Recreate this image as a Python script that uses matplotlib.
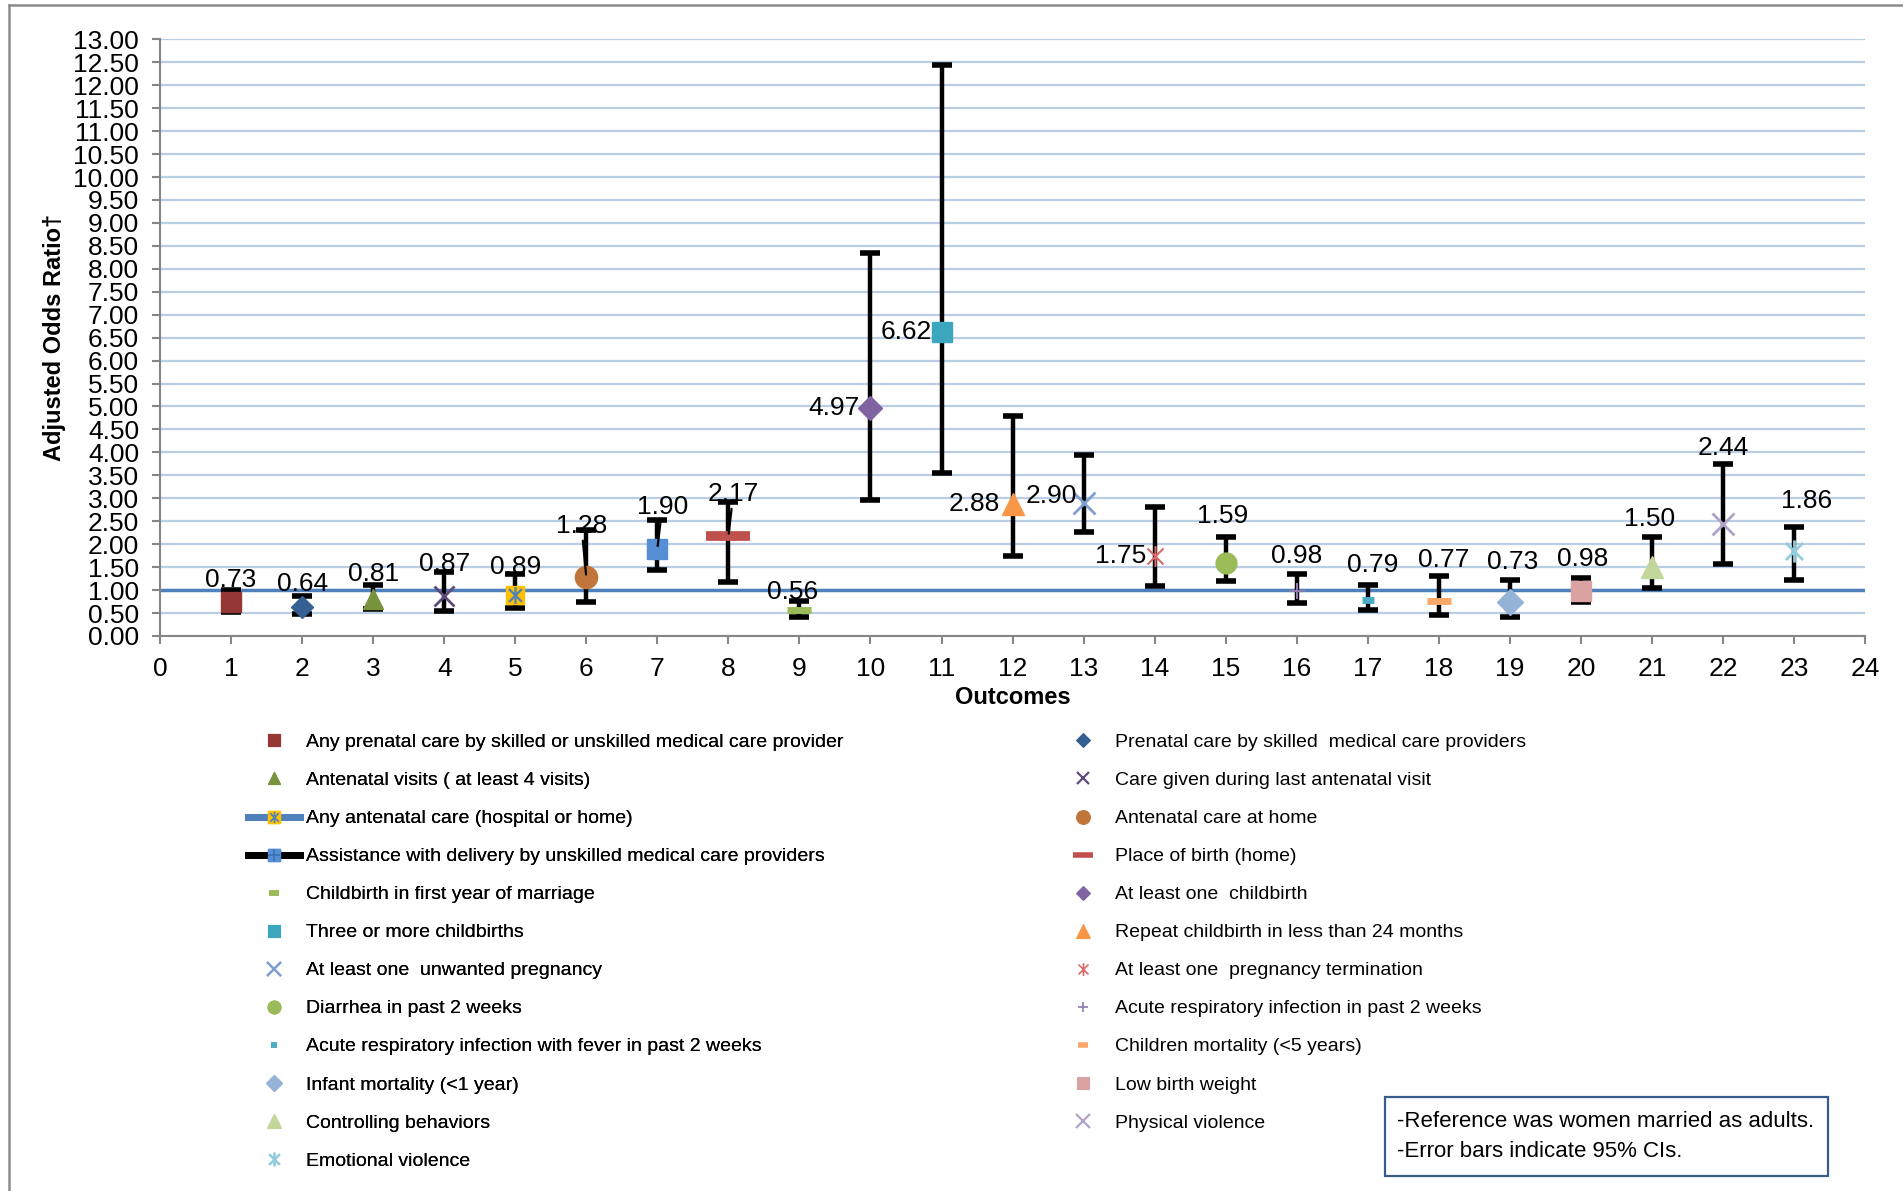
import matplotlib
matplotlib.use("Agg")
import matplotlib.pyplot as plt
from matplotlib.lines import Line2D
from matplotlib.path import Path
from matplotlib.patches import Rectangle
from matplotlib.legend_handler import HandlerTuple
from matplotlib import font_manager

# Narrow font is closest to the Calibri look of the original
names = {f.name for f in font_manager.fontManager.ttflist}
FONT = 'Liberation Sans Narrow' if 'Liberation Sans Narrow' in names else 'Liberation Sans'
plt.rcParams['font.family'] = [FONT, 'DejaVu Sans']

# ---- data -------------------------------------------------------------
outcomes = [
    "Any prenatal care by skilled or unskilled medical care provider",
    "Prenatal care by skilled  medical care providers",
    "Antenatal visits ( at least 4 visits)",
    "Care given during last antenatal visit",
    "Any antenatal care (hospital or home)",
    "Antenatal care at home",
    "Assistance with delivery by unskilled medical care providers",
    "Place of birth (home)",
    "Childbirth in first year of marriage",
    "At least one  childbirth",
    "Three or more childbirths",
    "Repeat childbirth in less than 24 months",
    "At least one  unwanted pregnancy",
    "At least one  pregnancy termination",
    "Diarrhea in past 2 weeks",
    "Acute respiratory infection in past 2 weeks",
    "Acute respiratory infection with fever in past 2 weeks",
    "Children mortality (<5 years)",
    "Infant mortality (<1 year)",
    "Low birth weight",
    "Controlling behaviors",
    "Physical violence",
    "Emotional violence",
]
outcome_no = list(range(1, 24))
odds_ratio = [0.73, 0.64, 0.81, 0.87, 0.89, 1.28, 1.90, 2.17, 0.56, 4.97, 6.62, 2.88,
              2.90, 1.75, 1.59, 0.98, 0.79, 0.77, 0.73, 0.98, 1.50, 2.44, 1.86]
ci_low = [0.52, 0.49, 0.58, 0.55, 0.60, 0.73, 1.43, 1.17, 0.42, 2.97, 3.55, 1.74,
          2.26, 1.10, 1.19, 0.72, 0.56, 0.45, 0.42, 0.74, 1.05, 1.57, 1.22]
ci_high = [1.01, 0.87, 1.11, 1.39, 1.34, 2.30, 2.52, 2.93, 0.77, 8.35, 12.43, 4.79,
           3.94, 2.80, 2.16, 1.36, 1.12, 1.30, 1.22, 1.27, 2.16, 3.75, 2.37]

# ---- styles -----------------------------------------------------------
STAR = Path([(-1, -1), (1, 1), (-1, 1), (1, -1), (0, -1.3), (0, 1.3)],
            [Path.MOVETO, Path.LINETO] * 3)

# marker, colour, size, edge width
styles = [
    ('s', '#953735', 14, 1),
    ('D', '#376092', 11, 1),
    ('^', '#77933C', 14, 1),
    ('x', '#604A7B', 14, 2),
    ('s', '#FFC000', 13, 1),
    ('o', '#C0763A', 16, 1),
    ('s', '#558ED5', 14, 1),
    ('_', '#C0504D', 31, 7),
    ('_', '#9BBB59', 17, 5),
    ('D', '#8064A2', 12, 1),
    ('s', '#3CA6BE', 15, 1),
    ('^', '#F79646', 16, 1),
    ('x', '#7F9FD3', 16, 2),
    (STAR, '#D96B6A', 15, 1.5),
    ('o', '#9BBB59', 15, 1),
    ('+', '#8E7CB0', 12, 1.5),
    ('_', '#4BACC6', 9, 5),
    ('_', '#F9A86A', 17, 5),
    ('D', '#95B3D7', 13, 1),
    ('s', '#DAA2A1', 15, 1),
    ('^', '#C3D69B', 16, 1),
    ('x', '#B3A2C7', 16, 2),
    (STAR, '#93CDDD', 16, 2),
]

# label offsets (points) and horizontal alignment
label_off = [(0, 16), (0, 16.5), (0, 18), (0, 23), (0, 20), (-3.5, 37), (3.5, 30), (3.5, 30.5),
             (-5, 13), (-8, 0), (-7, 0), (-9, 0), (-5, 5), (-6, 0), (-2, 34), (0, 25),
             (3.5, 25), (3.5, 29), (2, 29), (1, 23), (-2, 35), (0, 55), (9, 35.5)]
label_ha = ['center'] * 9 + ['right'] * 5 + ['center'] * 9
leader = [6, 7, 8]

# ---- figure -----------------------------------------------------------
fig = plt.figure(figsize=(19.03, 11.91), dpi=100)
ax = fig.add_axes([0.0841, 0.466, 0.896, 0.501])

ax.set_xlim(0, 24)
ax.set_ylim(0, 13)
ax.set_xticks(range(0, 25))
ax.set_yticks([i * 0.5 for i in range(27)])
ax.yaxis.set_major_formatter(plt.FormatStrFormatter('%.2f'))
ax.grid(axis='y', color='#B9CDE5', lw=1.6)
ax.set_axisbelow(True)
for s in ('top', 'right'):
    ax.spines[s].set_visible(False)
for s in ('left', 'bottom'):
    ax.spines[s].set_color('#868686')
    ax.spines[s].set_linewidth(1.5)
ax.tick_params(axis='both', colors='#868686', length=6, width=1.5, labelsize=19,
               labelcolor='black', pad=9)

ax.axhline(1.0, color='#4F81BD', lw=2.5, zorder=2)

handles = []
for i, x in enumerate(outcome_no):
    v = odds_ratio[i]
    ax.errorbar(x, v, yerr=[[v - ci_low[i]], [ci_high[i] - v]], fmt='none',
                ecolor='black', elinewidth=3.2, capsize=7.5, capthick=4, zorder=3)
    m, c, ms, mew = styles[i]
    ax.plot(x, v, linestyle='none', marker=m, markersize=ms,
            markerfacecolor=c, markeredgecolor=c, markeredgewidth=mew, zorder=4)
    if i == 4:
        ax.plot(x, v, linestyle='none', marker=STAR, markersize=12,
                markeredgecolor='#4F81BD', markeredgewidth=1.6, zorder=5)

    dx, dy = label_off[i]
    kw = {}
    if x in leader:
        kw['arrowprops'] = dict(arrowstyle='-', color='black', lw=1.6,
                                shrinkA=0, shrinkB=2)
    ax.annotate(f"{v:.2f}", (x, v), xytext=(dx, dy), textcoords='offset points',
                ha=label_ha[i], va='center', fontsize=19, zorder=6, **kw)

    # legend proxy
    lm = 0.62 if m != '_' else 0.45
    h = Line2D([], [], linestyle='none', marker=m, markersize=max(ms * lm, 5),
               markerfacecolor=c, markeredgecolor=c,
               markeredgewidth=min(mew, 4) if m == '_' else mew * 0.8)
    if i == 4:
        h = (Line2D([], [], color='#4F81BD', lw=5),
             Line2D([], [], linestyle='none', marker='s', markersize=9,
                    markerfacecolor='#FFC000', markeredgecolor='#FFC000'),
             Line2D([], [], linestyle='none', marker=STAR, markersize=8,
                    markeredgecolor='#4F81BD', markeredgewidth=1.2))
    if i == 6:
        h = (Line2D([], [], color='black', lw=5),
             Line2D([], [], linestyle='none', marker='s', markersize=9,
                    markerfacecolor='#558ED5', markeredgecolor='#558ED5'),
             Line2D([], [], linestyle='none', marker='+', markersize=9,
                    markeredgecolor='#3A6FB5', markeredgewidth=1.2))
    handles.append(h)

ax.set_ylabel("Adjusted Odds Ratio\u2020", fontsize=17, fontweight='bold')
ax.yaxis.set_label_coords(-0.055, 0.5)
ax.set_xlabel("Outcomes", fontsize=17, fontweight='bold')
ax.xaxis.set_label_coords(0.5, -0.084)

# two legend columns, filled row by row like the original
leg_kw = dict(loc='upper left', frameon=False, fontsize=14, borderpad=0,
              borderaxespad=0, handlelength=2.7, handletextpad=0.3,
              labelspacing=1.05, handler_map={tuple: HandlerTuple(ndivide=1, pad=0)})
leg1 = fig.legend([handles[i] for i in range(0, 23, 2)],
                  [outcomes[i] for i in range(0, 23, 2)],
                  bbox_to_anchor=(0.1303, 0.384), **leg_kw)
fig.add_artist(leg1)
fig.legend([handles[i] for i in range(1, 23, 2)],
           [outcomes[i] for i in range(1, 23, 2)],
           bbox_to_anchor=(0.5555, 0.384), **leg_kw)

# note box
fig.add_artist(Rectangle((0.7278, 0.0126), 0.2328, 0.0663, transform=fig.transFigure,
                         fill=False, edgecolor='#385D8A', lw=1.6))
fig.text(0.7340, 0.0585, "-Reference was women married as adults.", fontsize=16,
         va='center')
fig.text(0.7340, 0.0330, "-Error bars indicate 95% CIs.", fontsize=16, va='center')

# outer frame of the original figure
fig.add_artist(Line2D([0.0047, 1], [0.9958, 0.9958], transform=fig.transFigure,
                      color='#8C8C8C', lw=1.8))
fig.add_artist(Line2D([0.0047, 0.0047], [0, 0.9958], transform=fig.transFigure,
                      color='#8C8C8C', lw=1.8))

fig.savefig("out.png", dpi=100)
